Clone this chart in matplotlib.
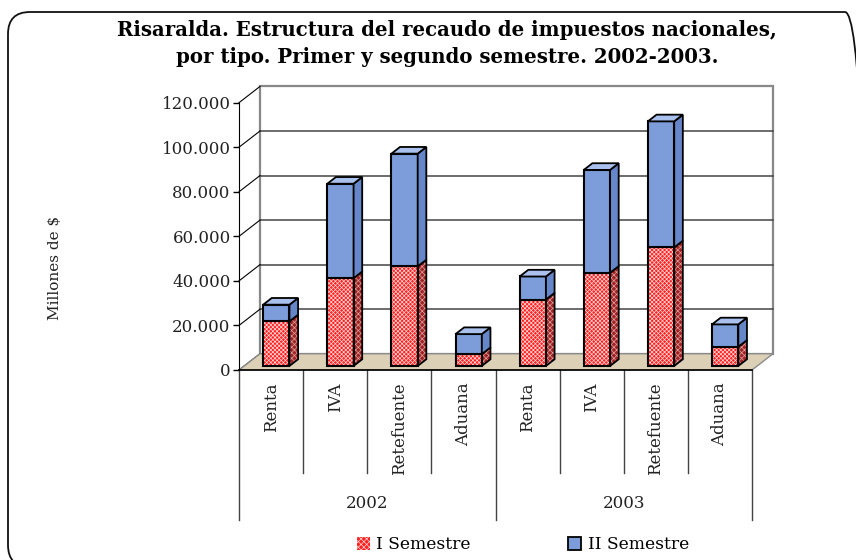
import numpy as np
import matplotlib.pyplot as plt
from matplotlib.patches import Polygon, FancyBboxPatch, Patch
import matplotlib.transforms as mtransforms

plt.rcParams['font.family'] = ['DejaVu Serif']
plt.rcParams['hatch.linewidth'] = 0.5

# datos (millones de $)
categorias = ['Renta', 'IVA', 'Retefuente', 'Aduana'] * 2
anios = ['2002', '2003']
sem1 = [20000, 39400, 44700, 5300, 29800, 41800, 53200, 8600]
sem2 = [7500, 42400, 50600, 9000, 10350, 46200, 56600, 10050]
yticks = [0, 20000, 40000, 60000, 80000, 100000, 120000]

fig = plt.figure(figsize=(8.56, 5.6), dpi=100)
ax = fig.add_axes([239 / 856, 190 / 560, 513 / 856, 267.3 / 560])
ax.set_xlim(-0.5, 7.5)
ax.set_ylim(0, 120000)

# desplazamiento de profundidad (efecto 3D)
dx, dy = 0.3276, 7310
f0, f1 = 0.25, 0.66
w = 0.41
ddx, ddy = (f1 - f0) * dx, (f1 - f0) * dy

for s in ['top', 'right', 'bottom']:
    ax.spines[s].set_visible(False)
ax.spines['left'].set_color('black')
ax.spines['left'].set_zorder(6)
ax.patch.set_alpha(0)

# pared del fondo
ax.add_patch(Polygon([(-0.5 + dx, dy), (7.5 + dx, dy), (7.5 + dx, 120000 + dy),
                      (-0.5 + dx, 120000 + dy)], closed=True, fc='white',
                     ec='#888888', lw=1.6, clip_on=False, zorder=1))
for t in yticks[1:-1]:
    ax.plot([-0.5 + dx, 7.5 + dx], [t + dy, t + dy], color='#444444', lw=1.1,
            clip_on=False, zorder=1.5)
for t in yticks:
    ax.plot([-0.5, -0.5 + dx], [t, t + dy], color='black', lw=0.8,
            clip_on=False, zorder=1.5)

# piso
ax.add_patch(Polygon([(-0.5, 0), (7.5, 0), (7.5 + dx, dy), (-0.5 + dx, dy)],
                     closed=True, fc='#dcd0b6', ec='#8a8a8a', lw=1,
                     clip_on=False, zorder=2))
ax.plot([-0.5, 7.5], [0, 0], color='black', lw=1.2, clip_on=False, zorder=6)

x = np.arange(len(categorias))
s1 = np.array(sem1)
s2 = np.array(sem2)
base = f0 * dy

# semestre I (rojo)
ax.bar(x + f0 * dx, s1, w, bottom=base, color='#ff2020', edgecolor='#ffd8d8',
       hatch='xxxxxxxx', linewidth=0, zorder=3)
ax.bar(x + f0 * dx, s1, w, bottom=base, fill=False, edgecolor='black',
       linewidth=1.5, zorder=3.2)
# semestre II (azul)
ax.bar(x + f0 * dx, s2, w, bottom=base + s1, color='#7c9dd9',
       edgecolor='black', linewidth=1.5, zorder=3.2)

for i in range(len(x)):
    xr = x[i] + f0 * dx + w / 2
    xl = x[i] + f0 * dx - w / 2
    b = base
    t1 = base + s1[i]
    t2 = t1 + s2[i]
    ax.add_patch(Polygon([(xr, b), (xr + ddx, b + ddy), (xr + ddx, t1 + ddy), (xr, t1)],
                         closed=True, fc='#a02222', ec='#e0a0a0', hatch='xxxxxx',
                         lw=0, zorder=3))
    ax.add_patch(Polygon([(xr, b), (xr + ddx, b + ddy), (xr + ddx, t1 + ddy), (xr, t1)],
                         closed=True, fill=False, ec='black', lw=1.3, zorder=3.3))
    ax.add_patch(Polygon([(xr, t1), (xr + ddx, t1 + ddy), (xr + ddx, t2 + ddy), (xr, t2)],
                         closed=True, fc='#6586c8', ec='black', lw=1.3, zorder=3.3))
    ax.add_patch(Polygon([(xl, t2), (xr, t2), (xr + ddx, t2 + ddy), (xl + ddx, t2 + ddy)],
                         closed=True, fc='#a9c1ec', ec='black', lw=1.3, zorder=3.3))

# ejes
ax.set_yticks(yticks)
ax.set_yticklabels([f'{t:,}'.replace(',', '.') for t in yticks], fontsize=12,
                   color='#222222')
ax.tick_params(axis='y', length=4, width=1, pad=2)
ax.set_xticks(x)
ax.set_xticklabels(categorias, rotation=90, fontsize=12, color='#222222')
ax.tick_params(axis='x', length=0, pad=9)

trans = mtransforms.blended_transform_factory(ax.transData, ax.transAxes)
for k in range(len(x) + 1):
    xp = k - 0.5
    y_end = -0.561 if k % 4 == 0 else -0.385
    ax.plot([xp, xp], [0, y_end], color='#444444', lw=1, transform=trans,
            clip_on=False)
for g, anio in enumerate(anios):
    ax.text(g * 4 + 1.5, -0.50, anio, transform=trans, ha='center',
            va='center', fontsize=12, color='#222222')

fig.text(55 / 856, 1 - 268 / 560, 'Millones de $', rotation=90, ha='center',
         va='center', fontsize=11, color='#222222')

fig.text(447 / 856, 1 - 30 / 560,
         'Risaralda. Estructura del recaudo de impuestos nacionales,',
         ha='center', va='center', fontsize=14.2, fontweight='bold')
fig.text(447 / 856, 1 - 57 / 560,
         'por tipo. Primer y segundo semestre. 2002-2003.',
         ha='center', va='center', fontsize=14.2, fontweight='bold')

handles = [Patch(facecolor='#ff2020', edgecolor='#ffd8d8', hatch='xxxxxx', lw=0),
           Patch(facecolor='#7c9dd9', edgecolor='black', lw=1.3)]
fig.legend(handles, ['I Semestre', 'II Semestre'], loc='center',
           bbox_to_anchor=(0.611, 0.027), ncol=2, frameon=False,
           fontsize=12.3, handlelength=0.75, handleheight=0.75,
           handletextpad=0.4, columnspacing=5.7)

# marco redondeado
fig.patches.append(FancyBboxPatch((8, -7), 859, 555,
                                  boxstyle='round,pad=0,rounding_size=22',
                                  transform=None, fill=False, ec='#111111',
                                  lw=1.3))

fig.savefig('out.png', dpi=100)
